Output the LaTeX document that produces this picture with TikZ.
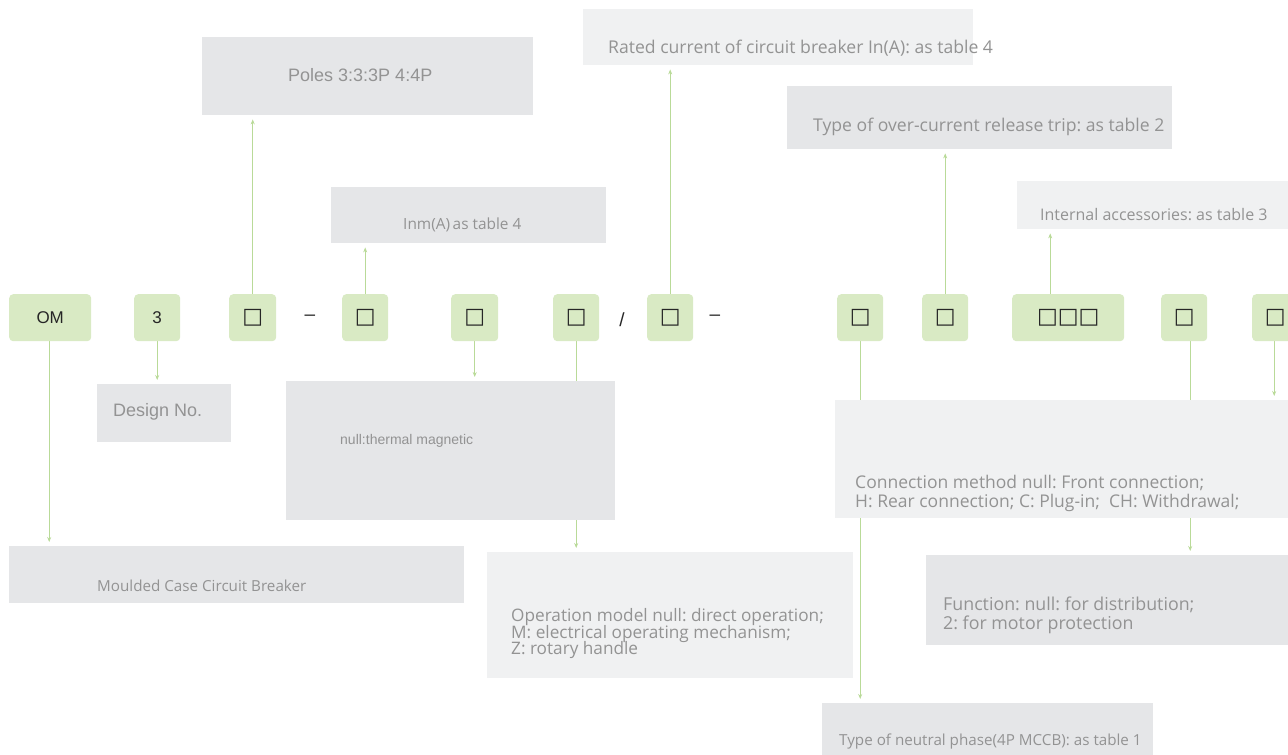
\documentclass[tikz,border=0pt]{standalone}
\usepackage{fontspec}
\setmainfont{Liberation Sans}
\newfontfamily\lightsans{Open Sans}
\newfontfamily\symfont{DejaVu Sans}
\usetikzlibrary{arrows.meta}
\definecolor{codefill}{HTML}{D9EAC4}
\definecolor{connline}{HTML}{B9DA98}
\definecolor{panelA}{HTML}{E5E6E8}
\definecolor{panelB}{HTML}{F0F1F2}
\definecolor{notetext}{HTML}{939393}
\definecolor{codetext}{HTML}{262626}
\pgfdeclarelayer{bg}
\pgfsetlayers{bg,main}
\frenchspacing
\newcommand\sq{{\symfont\fontsize{22}{22}\selectfont □}}
\newcommand\lsz[2]{\lightsans\fontsize{#1}{#2}\selectfont\lineskiplimit=-20pt\relax}
\begin{document}
\begin{tikzpicture}[x=1pt,y=-1pt,
  codebox/.style={fill=codefill,rounded corners=4pt,inner sep=0pt,minimum height=47pt,anchor=north west,text=codetext,font=\fontsize{17}{17}\selectfont},
  panel/.style={inner sep=0pt,anchor=north west},
  note/.style={inner sep=0pt,anchor=west,text=notetext,align=left},
  conn/.style={draw=connline,line width=1.2pt,-{Stealth[length=5pt,width=4pt]},shorten >=4pt},
  sepmark/.style={inner sep=0pt,text=codetext,font=\fontsize{19}{19}\selectfont}]
\useasboundingbox (0,0) rectangle (1288,755);

% code row
\node[codebox,minimum width=82pt] (om) at (9,294) {OM};
\node[codebox,minimum width=46pt] (b2) at (134,294) {3};
\node[codebox,minimum width=47pt] (b3) at (229,294) {\sq};
\node[sepmark] (d1) at (310,318) {–};
\node[codebox,minimum width=46pt] (b4) at (342,294) {\sq};
\node[codebox,minimum width=47pt] (b5) at (451,294) {\sq};
\node[codebox,minimum width=46pt] (b6) at (553,294) {\sq};
\node[sepmark] (sl) at (622,320) {/};
\node[codebox,minimum width=46pt] (b7) at (647,294) {\sq};
\node[sepmark] (d2) at (715,318) {–};
\node[codebox,minimum width=46pt] (b8) at (837,294) {\sq};
\node[codebox,minimum width=46pt] (b9) at (922,294) {\sq};
\node[codebox,minimum width=112pt] (b10) at (1012,294) {\sq\sq\sq};
\node[codebox,minimum width=46pt] (b11) at (1161,294) {\sq};
\node[codebox,minimum width=46pt] (b12) at (1252,294) {\sq};

% description panels
\node[panel,fill=panelA,minimum width=331pt,minimum height=78pt] (poles) at (202,37) {};
\node[panel,fill=panelB,minimum width=390pt,minimum height=56pt] (rated) at (583,9) {};
\node[panel,fill=panelA,minimum width=385pt,minimum height=63pt] (trip) at (787,86) {};
\node[panel,fill=panelA,minimum width=275pt,minimum height=56pt] (inm) at (331,187) {};
\node[panel,fill=panelB,minimum width=278pt,minimum height=48pt] (acc) at (1017,181) {};
\node[panel,fill=panelA,minimum width=134pt,minimum height=58pt] (design) at (97,384) {};
\node[panel,fill=panelA,minimum width=329pt,minimum height=139pt] (therm) at (286,381) {};
\node[panel,fill=panelA,minimum width=455pt,minimum height=57pt] (mccb) at (9,546) {};
\node[panel,fill=panelB,minimum width=366pt,minimum height=126pt] (oper) at (487,552) {};
\node[panel,fill=panelB,minimum width=465pt,minimum height=118pt] (connm) at (835,400) {};
\node[panel,fill=panelA,minimum width=374pt,minimum height=90pt] (func) at (926,555) {};
\node[panel,fill=panelA,minimum width=331pt,minimum height=57pt] (neut) at (822,703) {};

% panel texts
\node[note,font=\fontsize{18}{18}\selectfont] (tpoles) at (288,75) {Poles 3:3:3P 4:4P};
\node[note,font=\lsz{17.6}{18}] (trated) at (608,48) {Rated current of circuit breaker In(A): as table 4};
\node[note,font=\lsz{17.6}{18}] (ttrip) at (813,127) {Type of over-current release trip: as table 2};
\node[note,font=\lsz{15.4}{16}] (tinm) at (403,225) {Inm(A)\,as table 4};
\node[note,font=\lsz{16}{16}] (tacc) at (1040,215) {Internal accessories: as table 3};
\node[note,font=\fontsize{18}{18}\selectfont] (tdesign) at (113,412) {Design No.};
\node[note,font=\fontsize{14}{14}\selectfont] (ttherm) at (340,441) {null:thermal magnetic};
\node[note,font=\lsz{15.2}{16}] (tmccb) at (97,586) {Moulded Case Circuit Breaker};
\node[note,font=\lsz{17.2}{16.5}] (toper) at (511,634) {Operation model null: direct operation;\\M: electrical operating mechanism;\\Z: rotary handle};
\node[note,font=\lsz{17.5}{19}] (tconn) at (855,493) {Connection method null: Front connection;\\H: Rear connection; C: Plug-in;\ \ CH: Withdrawal;};
\node[note,font=\lsz{17.8}{19}] (tfunc) at (943,615) {Function: null: for distribution;\\2: for motor protection};
\node[note,font=\lsz{15.2}{16}] (tneut) at (839,742) {Type of neutral phase(4P MCCB): as table 1};

% connectors
\begin{pgfonlayer}{bg}
\draw[conn] ([xshift=-1pt]om.south) -- ([xshift=-1pt]om.south |- mccb.north);
\draw[conn] (b2.south) -- (b2.south |- design.north);
\draw[conn] (b3.north) -- (b3.north |- poles.south);
\draw[conn] (b4.north) -- (b4.north |- inm.south);
\draw[conn] (b5.south) -- (b5.south |- therm.north);
\draw[conn] (b6.south) -- (b6.south |- oper.north);
\draw[conn] (b7.north) -- (b7.north |- rated.south);
\draw[conn] (b8.south) -- (b8.south |- neut.north);
\draw[conn] (b9.north) -- (b9.north |- trip.south);
\draw[conn] ([xshift=-18pt]b10.north) -- ([xshift=-18pt]b10.north |- acc.south);
\draw[conn] ([xshift=6pt]b11.south) -- ([xshift=6pt]b11.south |- func.north);
\draw[conn] ([xshift=-1pt]b12.south) -- ([xshift=-1pt]b12.south |- connm.north);
\end{pgfonlayer}
\end{tikzpicture}
\end{document}
